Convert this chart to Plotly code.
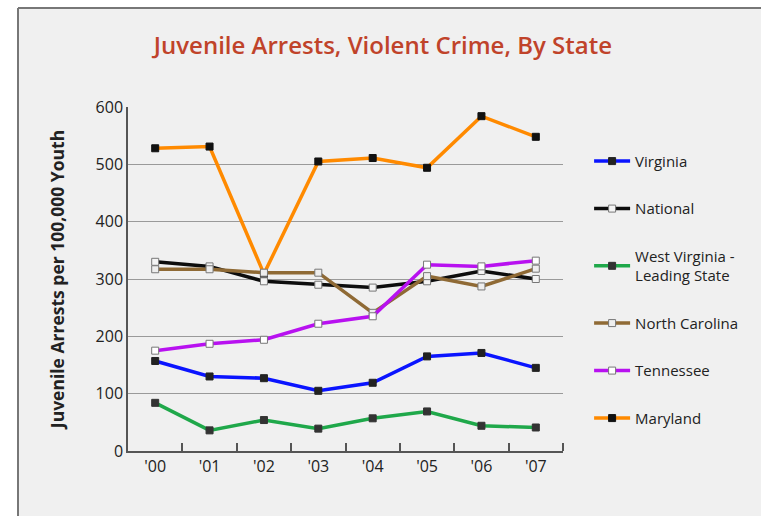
import plotly.graph_objects as go

years = ["'00", "'01", "'02", "'03", "'04", "'05", "'06", "'07"]
virginia = [157, 130, 127, 105, 119, 165, 171, 145]
national = [330, 322, 296, 290, 285, 296, 314, 300]
west_virginia = [84, 36, 54, 39, 57, 69, 44, 41]
north_carolina = [317, 317, 311, 311, 241, 305, 287, 318]
tennessee = [175, 187, 194, 222, 235, 325, 322, 332]
maryland = [528, 531, 309, 505, 511, 494, 584, 548]

series = [
    # name, values, color, marker fill, marker line, legend rank
    ("Maryland", maryland, "#ff8a00", "#111111", "#111111", 6),
    ("Virginia", virginia, "#0a14ff", "#222222", "#222222", 1),
    ("West Virginia -<br>Leading State", west_virginia, "#1fa84a", "#333333", "#333333", 3),
    ("National", national, "#0d0d0d", "#f4f4f4", "#777777", 2),
    ("North Carolina", north_carolina, "#8f6a35", "#eeeeee", "#777777", 4),
    ("Tennessee", tennessee, "#b811f0", "#ffffff", "#777777", 5),
]

fig = go.Figure()
for name, vals, color, mfill, mline, rank in series:
    fig.add_trace(go.Scatter(
        x=list(range(len(years))), y=vals, name=name, mode="lines+markers",
        line=dict(color=color, width=3.5),
        marker=dict(symbol="square", size=7, color=mfill, line=dict(color=mline, width=1)),
        legendrank=rank, legendgroup=name,
    ))

fig.update_layout(
    width=761, height=516,
    margin=dict(l=128, r=198, t=107, b=65),
    paper_bgcolor="#f0f0f0",
    plot_bgcolor="rgba(0,0,0,0)",
    font=dict(family="Open Sans", color="#222222", size=15),
    title=dict(text="Juvenile Arrests, Violent Crime, By State", x=0.586, xanchor="center",
               xref="paper", y=0.912, yanchor="middle",
               font=dict(family="Open Sans", size=24, color="#c0432a", weight=600)),
    showlegend=True,
    legend=dict(x=1.06, y=0.89, xanchor="left", yanchor="top", bgcolor="rgba(0,0,0,0)",
                font=dict(size=15, color="#222222"), tracegroupgap=25, itemwidth=36,
                traceorder="grouped"),
)
fig.update_xaxes(
    range=[-0.5, 7.5], tickvals=list(range(len(years))), ticktext=years,
    showgrid=False, zeroline=False, showline=True, linecolor="#555555", linewidth=1.5,
    ticks="", tickfont=dict(size=16, color="#222222"),
    minor=dict(tickvals=[i + 0.5 for i in range(len(years))], ticks="inside",
               ticklen=8, tickcolor="#555555", tickwidth=1.5, showgrid=False),
)
fig.update_yaxes(
    range=[0, 600], tickvals=[0, 100, 200, 300, 400, 500, 600],
    showgrid=True, gridcolor="#9a9a9a", gridwidth=1, zeroline=False,
    showline=True, linecolor="#555555", linewidth=1.5, ticks="", ticklen=6,
    tickfont=dict(size=16, color="#222222"),
    title=dict(text="<b>Juvenile Arrests per 100,000 Youth</b>", font=dict(size=17.5, color="#222222"),
               standoff=26),
)

# frame lines of the picture (top and left edge), and white outside
fig.add_shape(type="rect", xref="paper", yref="paper",
              x0=(0 - 128) / 435, x1=(18 - 128) / 435, y0=-1, y1=2,
              fillcolor="white", line=dict(width=0), layer="below")
fig.add_shape(type="rect", xref="paper", yref="paper",
              x0=-1, x1=2, y0=(451 - 0) / 344, y1=(451 - 7) / 344,
              fillcolor="white", line=dict(width=0), layer="below")
fig.add_shape(type="line", xref="paper", yref="paper",
              x0=(18 - 128) / 435, x1=(761 - 128) / 435, y0=(451 - 8) / 344, y1=(451 - 8) / 344,
              line=dict(color="#777777", width=2))
fig.add_shape(type="line", xref="paper", yref="paper",
              x0=(18 - 128) / 435, x1=(18 - 128) / 435, y0=(451 - 8) / 344, y1=(451 - 520) / 344,
              line=dict(color="#777777", width=2))

fig.write_html("out.html")
